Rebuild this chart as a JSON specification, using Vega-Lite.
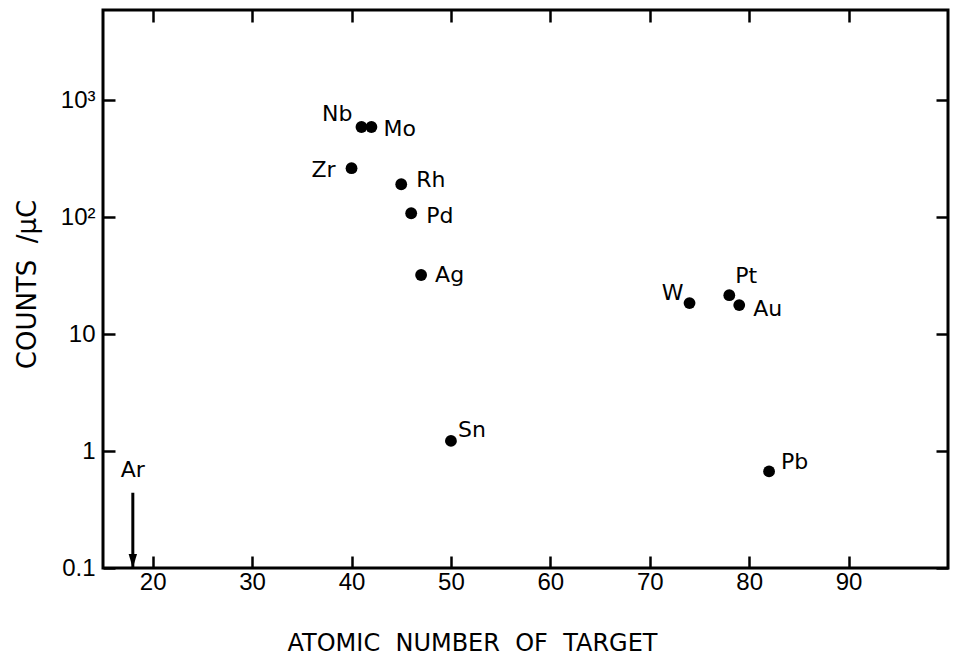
{
  "$schema": "https://vega.github.io/schema/vega-lite/v6.json",
  "width": 845,
  "height": 558,
  "autosize": "none",
  "padding": {"left": 103, "top": 10, "right": 7, "bottom": 89},
  "background": "white",
  "resolve": {"axis": {"x": "independent", "y": "independent"}},
  "config": {
    "view": {"stroke": "black", "strokeWidth": 3},
    "font": "DejaVu Sans",
    "axis": {
      "domain": false,
      "grid": false,
      "tickColor": "black",
      "tickWidth": 2.5,
      "tickSize": -12,
      "labelColor": "black",
      "labelFont": "Liberation Sans",
      "labelFontSize": 24,
      "titleColor": "black",
      "titleFont": "DejaVu Sans",
      "titleFontSize": 24,
      "titleFontWeight": "normal"
    },
    "text": {"font": "DejaVu Sans", "fontSize": 22, "color": "black", "baseline": "middle"}
  },
  "datasets": {
    "pts": [
      {"el": "Zr", "z": 40, "c": 262},
      {"el": "Nb", "z": 41, "c": 590},
      {"el": "Mo", "z": 42, "c": 590},
      {"el": "Rh", "z": 45, "c": 191},
      {"el": "Pd", "z": 46, "c": 108},
      {"el": "Ag", "z": 47, "c": 32},
      {"el": "Sn", "z": 50, "c": 1.22},
      {"el": "W", "z": 74, "c": 18.4},
      {"el": "Pt", "z": 78, "c": 21.5},
      {"el": "Au", "z": 79, "c": 17.7},
      {"el": "Pb", "z": 82, "c": 0.67}
    ],
    "ar": [
      {"el": "Ar", "z": 18, "top": 0.44, "c": 0.1, "tri": 0.1147}
    ]
  },
  "layer": [
    {
      "data": {"name": "pts"},
      "mark": {"type": "point", "filled": true, "color": "black", "size": 140, "opacity": 1},
      "encoding": {
        "x": {
          "field": "z", "type": "quantitative",
          "scale": {"domain": [15, 100], "nice": false, "zero": false},
          "axis": {
            "orient": "bottom",
            "values": [20, 30, 40, 50, 60, 70, 80, 90],
            "labelPadding": 14,
            "title": "ATOMIC\u00a0\u00a0NUMBER\u00a0\u00a0OF\u00a0\u00a0TARGET",
            "titleX": 369,
            "titleY": 75,
            "titleBaseline": "middle"
          }
        },
        "y": {
          "field": "c", "type": "quantitative",
          "scale": {"type": "log", "domain": [0.1, 5900], "nice": false},
          "axis": {
            "orient": "left",
            "values": [0.1, 1, 10, 100, 1000],
            "labelExpr": "datum.value == 1000 ? '10³' : datum.value == 100 ? '10²' : datum.value == 10 ? '10' : datum.value == 1 ? '1' : '0.1'",
            "labelPadding": 20,
            "title": "COUNTS\u00a0\u00a0/μC",
            "titleFontSize": 26,
            "titleX": -76,
            "titleY": 274,
            "titleBaseline": "middle",
            "titleAngle": -90
          }
        }
      }
    },
    {
      "data": {"name": "ar"},
      "mark": {"type": "rule", "color": "black", "strokeWidth": 3},
      "encoding": {
        "x": {"field": "z", "type": "quantitative", "axis": null},
        "y": {"field": "top", "type": "quantitative", "axis": null},
        "y2": {"field": "c"}
      }
    },
    {
      "data": {"name": "ar"},
      "mark": {"type": "point", "filled": true, "color": "black", "opacity": 1, "size": 196, "shape": "M-0.6,-1L0.6,-1L0,1Z", "clip": false},
      "encoding": {
        "x": {"field": "z", "type": "quantitative",
          "axis": {"orient": "top", "values": [20, 30, 40, 50, 60, 70, 80, 90], "labels": false, "title": null}},
        "y": {"field": "tri", "type": "quantitative",
          "axis": {"orient": "right", "values": [0.1, 1, 10, 100, 1000], "labels": false, "title": null}}
      }
    },
    {
      "data": {"name": "ar"},
      "mark": {"type": "text", "align": "center", "dy": -23},
      "encoding": {
        "x": {"field": "z", "type": "quantitative", "axis": null},
        "y": {"field": "top", "type": "quantitative", "axis": null},
        "text": {"field": "el"}
      }
    },
    {
      "data": {"name": "pts"},
      "transform": [{"filter": "datum.el == 'Nb'"}],
      "mark": {"type": "text", "align": "right", "dx": -9, "dy": -13},
      "encoding": {"x": {"field": "z", "type": "quantitative", "axis": null}, "y": {"field": "c", "type": "quantitative", "axis": null}, "text": {"field": "el"}}
    },
    {
      "data": {"name": "pts"},
      "transform": [{"filter": "datum.el == 'Zr'"}],
      "mark": {"type": "text", "align": "right", "dx": -16, "dy": 2},
      "encoding": {"x": {"field": "z", "type": "quantitative", "axis": null}, "y": {"field": "c", "type": "quantitative", "axis": null}, "text": {"field": "el"}}
    },
    {
      "data": {"name": "pts"},
      "transform": [{"filter": "datum.el == 'W'"}],
      "mark": {"type": "text", "align": "right", "dx": -6, "dy": -10},
      "encoding": {"x": {"field": "z", "type": "quantitative", "axis": null}, "y": {"field": "c", "type": "quantitative", "axis": null}, "text": {"field": "el"}}
    },
    {
      "data": {"name": "pts"},
      "transform": [{"filter": "datum.el == 'Mo'"}],
      "mark": {"type": "text", "align": "left", "dx": 12, "dy": 2},
      "encoding": {"x": {"field": "z", "type": "quantitative", "axis": null}, "y": {"field": "c", "type": "quantitative", "axis": null}, "text": {"field": "el"}}
    },
    {
      "data": {"name": "pts"},
      "transform": [{"filter": "datum.el == 'Rh'"}],
      "mark": {"type": "text", "align": "left", "dx": 15, "dy": -4},
      "encoding": {"x": {"field": "z", "type": "quantitative", "axis": null}, "y": {"field": "c", "type": "quantitative", "axis": null}, "text": {"field": "el"}}
    },
    {
      "data": {"name": "pts"},
      "transform": [{"filter": "datum.el == 'Pd'"}],
      "mark": {"type": "text", "align": "left", "dx": 15, "dy": 3},
      "encoding": {"x": {"field": "z", "type": "quantitative", "axis": null}, "y": {"field": "c", "type": "quantitative", "axis": null}, "text": {"field": "el"}}
    },
    {
      "data": {"name": "pts"},
      "transform": [{"filter": "datum.el == 'Ag'"}],
      "mark": {"type": "text", "align": "left", "dx": 14, "dy": 0},
      "encoding": {"x": {"field": "z", "type": "quantitative", "axis": null}, "y": {"field": "c", "type": "quantitative", "axis": null}, "text": {"field": "el"}}
    },
    {
      "data": {"name": "pts"},
      "transform": [{"filter": "datum.el == 'Sn'"}],
      "mark": {"type": "text", "align": "left", "dx": 7, "dy": -11},
      "encoding": {"x": {"field": "z", "type": "quantitative", "axis": null}, "y": {"field": "c", "type": "quantitative", "axis": null}, "text": {"field": "el"}}
    },
    {
      "data": {"name": "pts"},
      "transform": [{"filter": "datum.el == 'Pt'"}],
      "mark": {"type": "text", "align": "left", "dx": 6, "dy": -19},
      "encoding": {"x": {"field": "z", "type": "quantitative", "axis": null}, "y": {"field": "c", "type": "quantitative", "axis": null}, "text": {"field": "el"}}
    },
    {
      "data": {"name": "pts"},
      "transform": [{"filter": "datum.el == 'Au'"}],
      "mark": {"type": "text", "align": "left", "dx": 14, "dy": 4},
      "encoding": {"x": {"field": "z", "type": "quantitative", "axis": null}, "y": {"field": "c", "type": "quantitative", "axis": null}, "text": {"field": "el"}}
    },
    {
      "data": {"name": "pts"},
      "transform": [{"filter": "datum.el == 'Pb'"}],
      "mark": {"type": "text", "align": "left", "dx": 12, "dy": -9},
      "encoding": {"x": {"field": "z", "type": "quantitative", "axis": null}, "y": {"field": "c", "type": "quantitative", "axis": null}, "text": {"field": "el"}}
    }
  ]
}
